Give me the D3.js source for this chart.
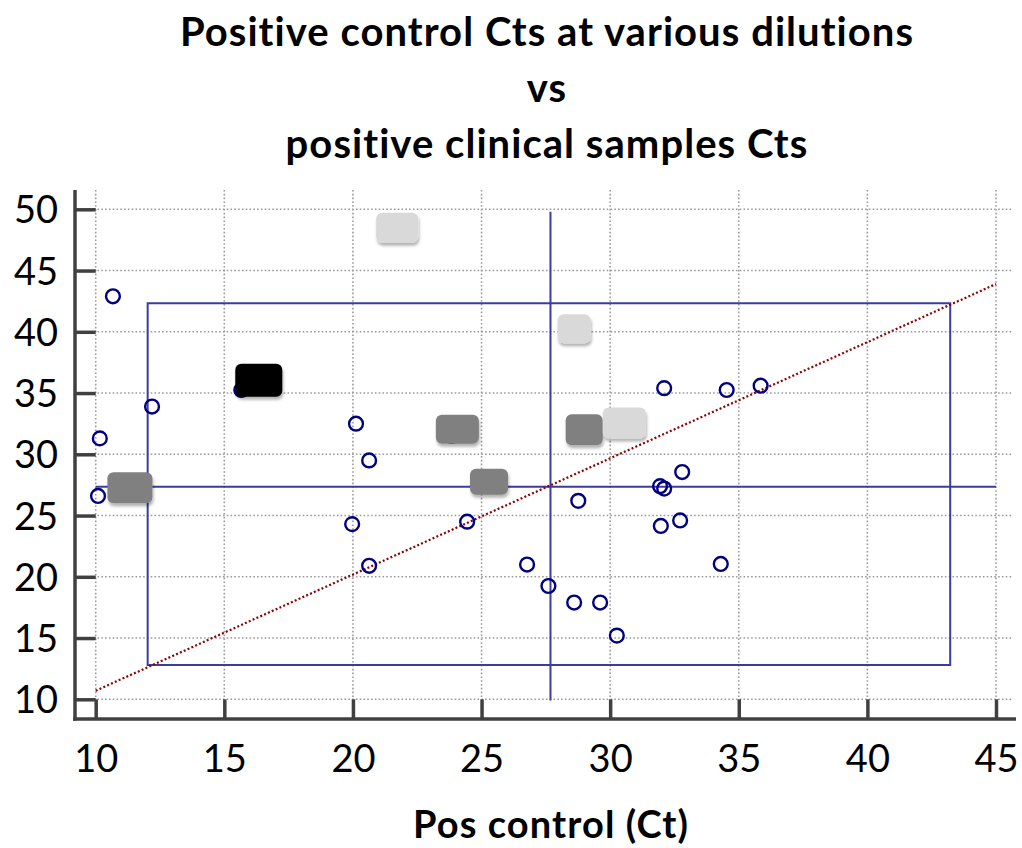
<!DOCTYPE html>
<html>
<head>
<meta charset="utf-8">
<script src="https://cdn.jsdelivr.net/npm/d3@7/dist/d3.min.js"></script>
<style>
  html, body { margin: 0; padding: 0; background: #ffffff; }
  svg { display: block; font-family: Lato, "Open Sans", sans-serif; font-variant-ligatures: none; }
</style>
</head>
<body>
<svg id="chart" width="1022" height="848"></svg>
<script>
// Title and axis text
const titleLines = ["Positive control Cts at various dilutions", "vs", "positive clinical samples Cts"];
const xTitle = "Pos control (Ct)";

// Tick values
const xTicks = [10, 15, 20, 25, 30, 35, 40, 45];
const yTicks = [10, 15, 20, 25, 30, 35, 40, 45, 50];

// Positive clinical samples (open circles)
const sampleX = [10.67, 10.16, 10.09, 12.19, 15.66, 20.12, 20.63, 19.97, 20.63, 24.44, 23.84,
                 26.77, 27.60, 28.60, 29.61, 30.26, 28.76, 31.94, 32.10, 31.97, 32.72, 34.30,
                 32.80, 32.10, 34.53, 35.85];
const sampleY = [42.9, 31.3, 26.6, 33.9, 35.25, 32.5, 29.5, 24.3, 20.9, 24.5, 31.5,
                 21.0, 19.25, 17.9, 17.9, 15.2, 26.2, 27.4, 27.2, 24.15, 24.6, 21.05,
                 28.55, 35.4, 35.25, 35.6];

// Positive control dilutions (rounded boxes), grouped by shade
const controlShade = ["dark", "dark", "dark", "dark", "light", "light", "light", "black"];
const controlX = [24.06, 28.99, 11.33, 25.29, 21.72, 28.60, 30.55, 16.34];
const controlY = [32.04, 32.00, 27.27, 27.75, 48.50, 40.25, 32.55, 36.04];

// Mean reference lines, range box and trend line
const meanX = 27.68;
const meanXSpan = [9.9, 49.8];
const meanY = 27.36;
const meanYSpan = [10, 45];
const rangeBoxX = [12.02, 43.22];
const rangeBoxY = [12.8, 42.33];
const trendX = [10, 45];
const trendY = [10.7, 43.9];

// Box marker sizes (width, height in px) and fills
const boxSize = [[43, 29], [37, 31], [45, 31], [38, 26], [42, 30], [33, 29], [43, 31], [47, 33]];
const shadeFill = { light: "#d9d9d9", dark: "#808080", black: "#000000" };

const svg = d3.select("#chart");

const x = d3.scaleLinear().domain([10, 45]).range([95.7, 996]);
const y = d3.scaleLinear().domain([10, 50]).range([699.3, 209.3]);

const axisLeftX = 75, axisBottomY = 719, axisTopY = 190, axisRightX = 1016;
const gridColor = "#9a9a9a", axisColor = "#404040", refColor = "#3b3ba0";

// Drop shadow for the control boxes
const defs = svg.append("defs");
const f = defs.append("filter").attr("id", "shadow")
  .attr("x", "-30%").attr("y", "-30%").attr("width", "160%").attr("height", "180%");
f.append("feDropShadow").attr("dx", 1).attr("dy", 3).attr("stdDeviation", 1.8)
  .attr("flood-color", "#000").attr("flood-opacity", 0.3);

// Title
svg.append("g").selectAll("text").data(titleLines).join("text")
  .attr("x", 547).attr("y", (d, i) => 46 + i * 56)
  .attr("text-anchor", "middle").attr("font-weight", 700).attr("font-size", 40)
  .attr("letter-spacing", 1.05)
  .attr("fill", "#000").text(d => d);

// Grid
const grid = svg.append("g").attr("stroke", gridColor).attr("stroke-width", 1.6)
  .attr("stroke-dasharray", "1.6,2.2");
grid.selectAll("line.v").data(xTicks).join("line").attr("class", "v")
  .attr("x1", d => x(d)).attr("x2", d => x(d)).attr("y1", axisTopY).attr("y2", y(10));
grid.selectAll("line.h").data(yTicks).join("line").attr("class", "h")
  .attr("y1", d => y(d)).attr("y2", d => y(d)).attr("x1", x(10) - 2).attr("x2", 1013);

// Axes with inward ticks
const yAxis = svg.append("g").attr("transform", `translate(${axisLeftX},0)`)
  .call(d3.axisLeft(y).tickValues(yTicks).tickSizeInner(-(x(10) - axisLeftX)).tickSizeOuter(0).tickPadding(17));
const xAxis = svg.append("g").attr("transform", `translate(0,${axisBottomY})`)
  .call(d3.axisBottom(x).tickValues(xTicks).tickSizeInner(-(axisBottomY - y(10))).tickSizeOuter(0).tickPadding(21));
[yAxis, xAxis].forEach(g => {
  g.select(".domain").remove();
  g.selectAll(".tick line").attr("stroke", axisColor).attr("stroke-width", 3.5);
  g.selectAll(".tick text").attr("font-size", 38).attr("fill", "#000")
    .attr("font-family", "Lato, 'Open Sans', sans-serif");
});
xAxis.selectAll(".tick text").attr("dy", "0.85em");
yAxis.selectAll(".tick text").attr("dy", "0.36em");

svg.append("line").attr("x1", axisLeftX).attr("x2", axisLeftX).attr("y1", axisTopY).attr("y2", axisBottomY + 1.75)
  .attr("stroke", axisColor).attr("stroke-width", 3.5);
svg.append("line").attr("x1", axisLeftX - 1.75).attr("x2", axisRightX).attr("y1", axisBottomY).attr("y2", axisBottomY)
  .attr("stroke", axisColor).attr("stroke-width", 3.5);

// X axis title
svg.append("text").attr("x", 551).attr("y", 838).attr("text-anchor", "middle")
  .attr("font-weight", 700).attr("font-size", 38).attr("letter-spacing", 1.1)
  .attr("fill", "#000").text(xTitle);

// Reference lines and range box
const ref = svg.append("g").attr("stroke", refColor).attr("stroke-width", 2).attr("fill", "none");
ref.append("rect")
  .attr("x", x(rangeBoxX[0])).attr("y", y(rangeBoxY[1]))
  .attr("width", x(rangeBoxX[1]) - x(rangeBoxX[0])).attr("height", y(rangeBoxY[0]) - y(rangeBoxY[1]));
ref.append("line").attr("x1", x(meanX)).attr("x2", x(meanX)).attr("y1", y(meanXSpan[0])).attr("y2", y(meanXSpan[1]));
ref.append("line").attr("y1", y(meanY)).attr("y2", y(meanY)).attr("x1", x(meanYSpan[0])).attr("x2", x(meanYSpan[1]));

// Trend line
svg.append("line")
  .attr("x1", x(trendX[0])).attr("y1", y(trendY[0])).attr("x2", x(trendX[1])).attr("y2", y(trendY[1]))
  .attr("stroke", "#8b0000").attr("stroke-width", 2.2).attr("stroke-dasharray", "2,2.2");

// Clinical samples
svg.append("g").selectAll("circle").data(sampleX).join("circle")
  .attr("cx", d => x(d)).attr("cy", (d, i) => y(sampleY[i])).attr("r", 6.9)
  .attr("fill", "none").attr("stroke", "#000080").attr("stroke-width", 2.4);

// Positive control boxes
svg.append("g").selectAll("rect").data(controlX).join("rect")
  .attr("x", (d, i) => x(d) - boxSize[i][0] / 2)
  .attr("y", (d, i) => y(controlY[i]) - boxSize[i][1] / 2)
  .attr("width", (d, i) => boxSize[i][0]).attr("height", (d, i) => boxSize[i][1])
  .attr("rx", 6).attr("ry", 6)
  .attr("fill", (d, i) => shadeFill[controlShade[i]])
  .attr("filter", "url(#shadow)");
</script>
</body>
</html>
